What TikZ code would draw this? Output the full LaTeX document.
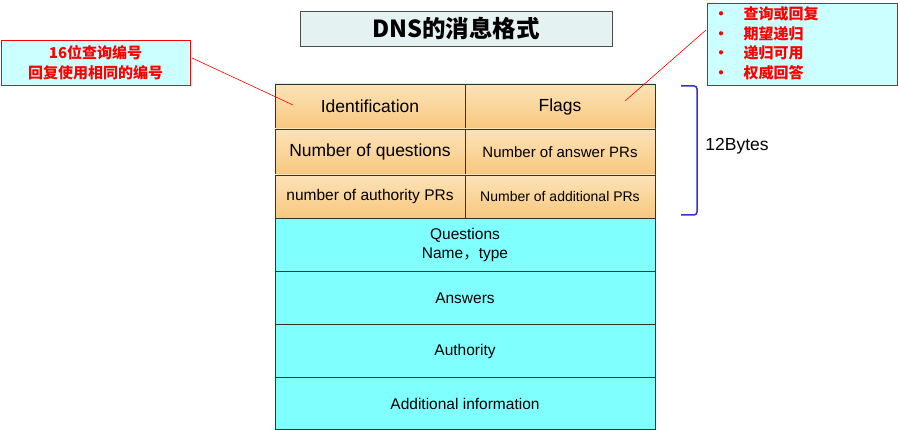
\documentclass[tikz,border=0pt]{standalone}
\usepackage{fontspec}
\setmainfont{Liberation Sans}
\newfontfamily\cjk{Noto Sans CJK SC}
\definecolor{peachT}{HTML}{FCE3B8}
\definecolor{peachB}{HTML}{F8C77E}
\definecolor{aqua}{HTML}{80FFFF}
\definecolor{paleC}{HTML}{CCFFFF}
\begin{document}
\begin{tikzpicture}[x=1pt,y=-1pt,
  cellO/.style={draw=black!80,top color=peachT,bottom color=peachB,line width=0.6pt},
  cellC/.style={draw=black!80,fill=aqua,line width=0.6pt},
  lbl/.style={font=\fontsize{17.5}{20}\selectfont},
  callout/.style={draw=red,fill=paleC,line width=0.6pt},
  ctext/.style={text=red,font=\cjk\bfseries\fontsize{15}{19.5}\selectfont,align=center},
  pointer/.style={draw=red,line width=0.6pt}]
\useasboundingbox (0,0) rectangle (898,430);
% title
\draw[fill=teal!10,draw=black!70] (300,11) rectangle (612,46);
\node (title) at (456,28.5) {\cjk\bfseries\fontsize{23.5}{26}\selectfont DNS的消息格式};
% header cells
\draw[cellO] (275,84) rectangle (465,129); \node[lbl] (id) at (370,106.5) {Identification};
\draw[cellO] (465,84) rectangle (655,129); \node[lbl] (flags) at (560,106.5) {Flags};
\draw[cellO] (275,129) rectangle (465,175); \node[lbl] (nq) at (370,152) {Number of questions};
\draw[cellO] (465,129) rectangle (655,175); \node[font=\fontsize{15}{17}\selectfont] (na) at (560,152) {Number of answer PRs};
\draw[cellO] (275,175) rectangle (465,218); \node[font=\fontsize{15.5}{17}\selectfont] (nau) at (370,196.5) {number of authority PRs};
\draw[cellO] (465,175) rectangle (655,218); \node[font=\fontsize{14}{16}\selectfont] (nad) at (560,196.5) {Number of additional PRs};
% body
\draw[cellC] (275,218) rectangle (655,271); \node[font=\fontsize{15.5}{19}\selectfont,align=center] (q) at (465,245) {Questions\\Name{\cjk，}type};
\draw[cellC] (275,271) rectangle (655,324); \node[font=\fontsize{15.5}{17}\selectfont] (ans) at (465,298.5) {Answers};
\draw[cellC] (275,324) rectangle (655,377); \node[font=\fontsize{15.5}{17}\selectfont] (auth) at (465,351) {Authority};
\draw[cellC] (275,377) rectangle (655,429.5); \node[font=\fontsize{15.5}{17}\selectfont] (add) at (465,404) {Additional information};
% callouts
\draw[callout] (1,40) rectangle (190,85);
\node[ctext] (lc) at (95.5,62.5) {16位查询编号\\回复使用相同的编号};
\draw[callout] (707,3) rectangle (897,85);
\node[ctext,align=left,anchor=west] (rc) at (710,43.5) {•\quad 查询或回复\\•\quad 期望递归\\•\quad 递归可用\\•\quad 权威回答};
\coordinate (lp) at (293,105); \coordinate (rp) at (625,101);
\draw[pointer] (192,58) -- (lp);
\draw[pointer] (706,30) -- (rp);
% brace
\draw[draw=blue!60!gray,line width=1.5pt,rounded corners=3pt] (681,86) -- (697,86) -- (697,215) -- (681,215);
\node[font=\fontsize{17.5}{20}\selectfont] (bytes) at (737,146) {12Bytes};
\end{tikzpicture}
\end{document}
